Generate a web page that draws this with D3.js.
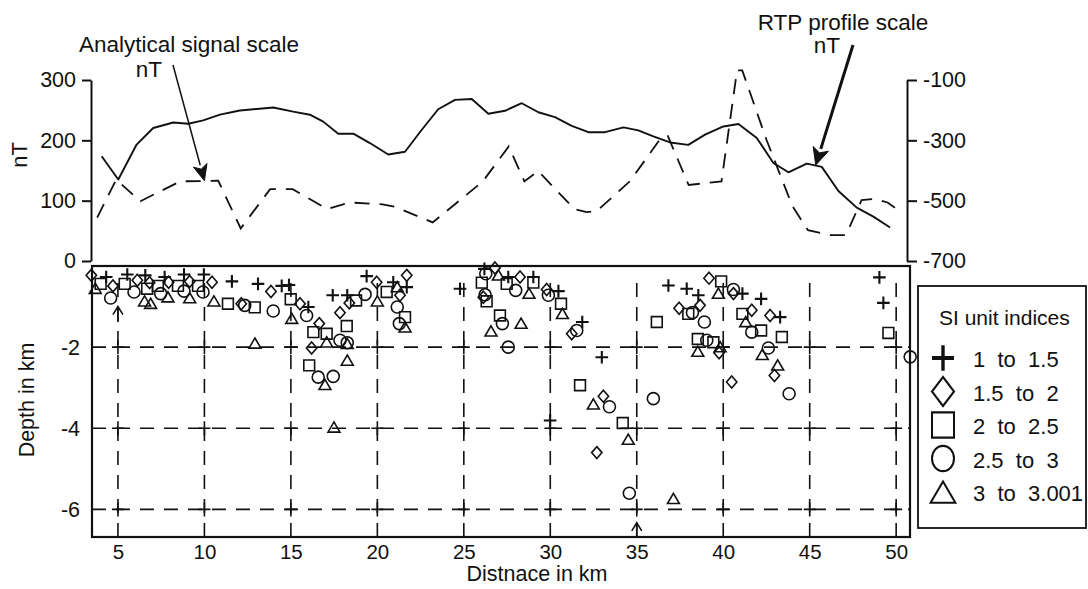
<!DOCTYPE html>
<html>
<head>
<meta charset="utf-8">
<script src="https://cdn.jsdelivr.net/npm/d3@7"></script>
<style>
  body { margin: 0; background: #fff; overflow: hidden; }
  text { fill: #111; }
</style>
</head>
<body>
<div id="chart"></div>
<script>
// ---- data ----
const distTicks = [5, 10, 15, 20, 25, 30, 35, 40, 45, 50];
const depthTicks = [-2, -4, -6];
const asTicks = [0, 100, 200, 300];
const rtpTicks = [-100, -300, -500, -700];

// RTP profile (solid line, right axis, nT)
const rtpKm = [4.06, 5.02, 6.08, 7.04, 8.2, 9.07, 9.93, 10.9, 12.05, 13.98, 15.13, 16.1, 16.87, 17.74, 18.61, 19.57, 20.63, 21.6, 22.57, 23.52, 24.49, 25.46, 26.42, 27.38, 28.35, 29.31, 30.27, 31.24, 32.2, 33.17, 34.23, 35.09, 35.96, 36.93, 37.98, 38.95, 40.01, 40.88, 41.94, 42.9, 43.77, 44.83, 45.7, 46.66, 47.72, 48.68, 49.65];
const rtpNT = [-353, -430, -314, -259, -241, -245, -234, -215, -201, -191, -205, -215, -238, -278, -278, -309, -347, -338, -265, -197, -166, -163, -212, -202, -177, -207, -223, -252, -273, -273, -257, -267, -287, -307, -315, -281, -254, -246, -292, -375, -406, -377, -388, -468, -523, -553, -589];

// analytical signal (dashed line, left axis, nT)
const asKm = [3.8, 4.9, 6.3, 8.6, 10.8, 12.1, 13.8, 15.1, 17.1, 18.4, 20.3, 21.0, 23.2, 26.1, 27.6, 28.5, 29.3, 31.4, 32.1, 32.7, 34.6, 36.4, 36.8, 38.0, 39.9, 40.8, 41.1, 42.5, 44.0, 44.9, 46.2, 47.1, 48.0, 48.8, 49.5, 50.2];
const asNT = [72, 135, 99, 132, 133, 54, 119, 119, 86, 97, 94, 90, 64, 132, 190, 132, 149, 86, 81, 83, 132, 204, 207, 126, 132, 316, 316, 201, 91, 51, 43, 43, 101, 103, 97, 83];

// Euler solutions [distance km, depth km] per SI class
const plusPts = [[4.32,-0.27],[5.54,-0.21],[6.58,-0.23],[7.7,-0.27],[8.82,-0.21],[9.97,-0.21],[11.59,-0.38],[13.1,-0.44],[14.47,-0.49],[14.89,-0.47],[16.01,-1.01],[17.42,-0.72],[18.26,-0.72],[19.38,-0.25],[20.92,-0.4],[21.7,-0.52],[24.78,-0.56],[26.19,-0.07],[27.57,-0.27],[29.02,-0.27],[30.47,-0.62],[31.85,-1.38],[32.98,-2.25],[29.99,-3.81],[36.83,-0.48],[37.89,-0.56],[38.56,-0.72],[41.11,-0.68],[42.19,-0.81],[43.29,-1.26],[49.03,-0.28],[49.26,-0.91]];
const diamondPts = [[3.46,-0.23],[4.71,-0.49],[6.12,-0.35],[6.83,-0.41],[7.93,-0.4],[9.15,-0.38],[10.44,-0.4],[12.13,-0.93],[13.85,-0.63],[15.53,-0.93],[16.64,-1.42],[16.2,-2.02],[17.84,-1.15],[18.38,-0.91],[19.96,-0.4],[21.31,-0.72],[21.7,-0.23],[26.8,-0.05],[28.25,-0.27],[26.13,-0.77],[29.79,-0.58],[31.24,-1.67],[33.07,-3.21],[32.69,-4.6],[39.18,-0.3],[40.59,-0.68],[37.45,-1.04],[38.66,-0.97],[39.76,-2.14],[40.49,-2.86],[41.65,-1.09],[42.71,-1.22],[42.96,-2.7]];
const squarePts = [[4.0,-0.44],[5.39,-0.44],[6.69,-0.56],[7.31,-0.49],[8.47,-0.49],[9.63,-0.49],[11.36,-0.93],[12.91,-1.02],[14.99,-0.82],[16.3,-1.63],[17.07,-1.67],[16.06,-2.45],[18.77,-0.85],[18.23,-1.48],[20.54,-0.64],[21.6,-1.26],[26.04,-0.41],[27.48,-0.44],[29.02,-0.41],[26.32,-0.87],[27.09,-1.22],[30.62,-0.93],[31.72,-2.94],[34.19,-3.87],[36.16,-1.38],[39.88,-0.38],[37.98,-1.18],[38.53,-1.8],[39.43,-1.88],[41.11,-1.18],[42.19,-1.59],[43.39,-1.75],[49.55,-1.65]];
const circlePts = [[4.58,-0.79],[5.93,-0.64],[7.47,-0.68],[8.82,-0.62],[9.92,-0.64],[12.33,-0.97],[13.98,-1.11],[15.91,-1.22],[16.58,-2.74],[17.45,-2.72],[17.84,-1.83],[18.26,-1.89],[19.29,-0.7],[21.15,-1.01],[21.27,-1.42],[26.27,-0.19],[28.0,-0.6],[26.23,-0.71],[27.23,-1.42],[27.57,-2.0],[29.89,-0.72],[31.53,-1.59],[33.42,-3.47],[34.57,-5.6],[35.96,-3.27],[40.59,-0.58],[38.22,-1.15],[38.91,-1.38],[39.05,-1.83],[41.65,-1.63],[42.61,-2.02],[43.81,-3.15],[50.81,-2.24]];
const trianglePts = [[3.69,-0.56],[6.54,-0.87],[6.89,-0.93],[7.89,-0.77],[9.15,-0.79],[10.55,-0.87],[12.92,-1.91],[15.05,-1.3],[17.07,-1.88],[16.97,-2.93],[17.49,-3.98],[18.26,-1.92],[18.26,-2.33],[20.0,-0.87],[21.15,-0.52],[21.6,-1.51],[27.0,-0.23],[28.77,-0.68],[28.31,-1.42],[26.57,-1.61],[30.7,-1.18],[32.49,-3.41],[34.51,-4.28],[37.12,-5.74],[39.72,-0.68],[38.53,-2.11],[39.82,-2.0],[41.3,-1.38],[42.26,-2.19],[43.15,-2.45]];

const siTypes = ['plus', 'diamond', 'square', 'circle', 'triangle'];
const siLabels = ['1  to  1.5', '1.5  to  2', '2  to  2.5', '2.5  to  3', '3  to  3.001'];
const siPoints = [plusPts, diamondPts, squarePts, circlePts, trianglePts];

// ---- layout ----
const dms = { width: 1088, height: 589 };
const font = '"Liberation Sans", Arial, Helvetica, sans-serif';

const svg = d3.select('#chart').append('svg')
    .attr('width', dms.width)
    .attr('height', dms.height)
    .style('font-family', font);

const x = d3.scaleLinear().domain([3.5, 50.8]).range([92, 910]);
const yD = d3.scaleLinear().domain([-6.68, 0]).range([537, 266]);
const yAS = d3.scaleLinear().domain([0, 300]).range([261, 80]);
const yRTP = d3.scaleLinear().domain([-700, -100]).range([261, 80]);

function shape(type, s) {
    if (type == 'plus') return `M${-s},0H${s}M0,${-s}V${s}`;
    if (type == 'diamond') return `M0,${-s*1.15}L${s},0L0,${s*1.15}L${-s},0Z`;
    if (type == 'square') return `M${-s},${-s}H${s}V${s}H${-s}Z`;
    if (type == 'circle') return `M${s},0A${s},${s} 0 1,1 ${-s},0A${s},${s} 0 1,1 ${s},0Z`;
    return `M0,${-s}L${s*1.08},${s*0.85}L${-s*1.08},${s*0.85}Z`;
}
const plotSize = { plus: 6.3, diamond: 5.2, square: 5.4, circle: 6, triangle: 5.5 };

// ---- upper panel: profiles ----
const upper = svg.append('g').attr('id', 'profiles');

const leftAxis = upper.append('g')
    .attr('transform', 'translate(91,0)')
    .call(d3.axisLeft(yAS).tickValues(asTicks).tickSize(9).tickPadding(6).tickSizeOuter(0));
const rightAxis = upper.append('g')
    .attr('transform', 'translate(907,0)')
    .call(d3.axisRight(yRTP).tickValues(rtpTicks).tickSize(10).tickPadding(6).tickSizeOuter(0).tickFormat(d => d));
[leftAxis, rightAxis].forEach(a => {
    a.selectAll('path, line').attr('stroke', '#111').attr('stroke-width', 2);
    a.selectAll('text').attr('font-size', 21.5).attr('font-family', font).attr('fill', '#111');
});

const lineGen = d3.line().x(d => x(d[0])).y(d => d[1]);
upper.append('path')
    .datum(asKm.map((k, i) => [k, yAS(asNT[i])]))
    .attr('d', lineGen)
    .attr('fill', 'none').attr('stroke', '#111').attr('stroke-width', 1.8)
    .attr('stroke-dasharray', '15,10');
upper.append('path')
    .datum(rtpKm.map((k, i) => [k, yRTP(rtpNT[i])]))
    .attr('d', lineGen)
    .attr('fill', 'none').attr('stroke', '#111').attr('stroke-width', 1.9)
    .attr('stroke-linejoin', 'round');

upper.append('text').attr('transform', 'translate(27,155) rotate(-90)')
    .attr('text-anchor', 'middle').attr('font-size', 22).text('nT');

// annotations
function arrow(g, x1, y1, x2, y2, w, head, hw) {
    const a = Math.atan2(y2 - y1, x2 - x1);
    const bx = x2 - head * Math.cos(a), by = y2 - head * Math.sin(a);
    g.append('line').attr('x1', x1).attr('y1', y1).attr('x2', bx).attr('y2', by)
        .attr('stroke', '#111').attr('stroke-width', w);
    const px = -Math.sin(a) * hw, py = Math.cos(a) * hw;
    g.append('path')
        .attr('d', `M${x2},${y2}L${bx + px},${by + py}L${bx + head*0.25*Math.cos(a)},${by + head*0.25*Math.sin(a)}L${bx - px},${by - py}Z`)
        .attr('fill', '#111').attr('stroke', '#111').attr('stroke-width', 1);
}
upper.append('text').attr('x', 189).attr('y', 52).attr('text-anchor', 'middle')
    .attr('font-size', 22.5).text('Analytical signal scale');
upper.append('text').attr('x', 149).attr('y', 77).attr('text-anchor', 'middle')
    .attr('font-size', 22.5).text('nT');
arrow(upper, 173, 65, x(10.0), yAS(133), 1.5, 16, 7);

upper.append('text').attr('x', 843).attr('y', 30).attr('text-anchor', 'middle')
    .attr('font-size', 22.5).text('RTP profile scale');
upper.append('text').attr('x', 827).attr('y', 53).attr('text-anchor', 'middle')
    .attr('font-size', 22.5).text('nT');
arrow(upper, 853, 45, x(45.35), yRTP(-382), 3, 17, 8);

// ---- lower panel: Euler depths ----
const lower = svg.append('g').attr('id', 'depths');

const grid = lower.append('g').attr('id', 'grid');
grid.selectAll('line.v').data(distTicks).join('line')
    .attr('class', 'v')
    .attr('x1', d => x(d)).attr('x2', d => x(d))
    .attr('y1', yD(-6.68)).attr('y2', yD(-0.3))
    .attr('stroke', '#111').attr('stroke-width', 1.6).attr('stroke-dasharray', '14,10');
grid.selectAll('line.h').data(depthTicks).join('line')
    .attr('class', 'h')
    .attr('x1', x(3.5)).attr('x2', x(50.8))
    .attr('y1', d => yD(d)).attr('y2', d => yD(d))
    .attr('stroke', '#111').attr('stroke-width', 1.6).attr('stroke-dasharray', '14,10');
const crossData = [];
distTicks.forEach(k => depthTicks.forEach(z => crossData.push([k, z])));
grid.selectAll('path.cross').data(crossData).join('path')
    .attr('class', 'cross')
    .attr('transform', d => `translate(${x(d[0])},${yD(d[1])})`)
    .attr('d', 'M-6,0H6M0,-7V7')
    .attr('stroke', '#111').attr('stroke-width', 1.6);

lower.append('rect')
    .attr('x', x(3.5)).attr('y', yD(0))
    .attr('width', x(50.8) - x(3.5)).attr('height', yD(-6.68) - yD(0))
    .attr('fill', 'none').attr('stroke', '#111').attr('stroke-width', 2.2);

// little upward arrows at 5 km and 35 km
[[5, -1.38, -1.0], [35, -6.68, -6.33]].forEach(a => {
    lower.append('line').attr('x1', x(a[0])).attr('x2', x(a[0]))
        .attr('y1', yD(a[1])).attr('y2', yD(a[2]))
        .attr('stroke', '#111').attr('stroke-width', 1.6);
    lower.append('path')
        .attr('d', `M${x(a[0]) - 5},${yD(a[2]) + 8}L${x(a[0])},${yD(a[2])}L${x(a[0]) + 5},${yD(a[2]) + 8}`)
        .attr('fill', 'none').attr('stroke', '#111').attr('stroke-width', 1.6);
});

const xAxis = lower.append('g')
    .attr('transform', `translate(0,${yD(-6.68)})`)
    .call(d3.axisBottom(x).tickValues(distTicks).tickSize(0).tickPadding(7));
const dAxis = lower.append('g')
    .attr('transform', `translate(${x(3.5)},0)`)
    .call(d3.axisLeft(yD).tickValues(depthTicks).tickSize(0).tickPadding(12).tickFormat(d => d));
xAxis.selectAll('text').attr('font-size', 20.5).attr('font-family', font).attr('fill', '#111');
dAxis.selectAll('text').attr('font-size', 21.5).attr('font-family', font).attr('fill', '#111');
[xAxis, dAxis].forEach(a => a.select('.domain').remove());

lower.append('text').attr('transform', 'translate(34,400) rotate(-90)')
    .attr('text-anchor', 'middle').attr('font-size', 21.5).text('Depth in km');
lower.append('text').attr('x', 537).attr('y', 581)
    .attr('text-anchor', 'middle').attr('font-size', 21.5).text('Distnace in km');

// solutions
siTypes.forEach((t, i) => {
    lower.append('g').attr('class', 'si-' + t)
        .selectAll('path').data(siPoints[i]).join('path')
        .attr('transform', d => `translate(${x(d[0])},${yD(d[1])})`)
        .attr('d', shape(t, plotSize[t]))
        .attr('fill', 'none').attr('stroke', '#111')
        .attr('stroke-width', t == 'plus' ? 2.1 : 1.6);
});

// ---- legend ----
const legend = svg.append('g').attr('id', 'legend');
legend.append('rect').attr('x', 918).attr('y', 286).attr('width', 168).attr('height', 242)
    .attr('fill', '#fff').attr('stroke', '#111').attr('stroke-width', 1.8);
legend.append('text').attr('x', 939).attr('y', 325).attr('font-size', 21).text('SI unit indices');
const rows = legend.selectAll('g.row').data(siTypes).join('g')
    .attr('class', 'row')
    .attr('transform', (d, i) => `translate(943,${358 + i * 33.5})`);
rows.append('path')
    .attr('d', d => shape(d, d == 'triangle' ? 11.5 : 11))
    .attr('transform', d => d == 'triangle' ? 'translate(0,1)' : 'scale(1,1.15)')
    .attr('fill', 'none').attr('stroke', '#111')
    .attr('stroke-width', d => d == 'plus' ? 3.4 : 2);
rows.append('text')
    .attr('x', 30).attr('y', 9)
    .attr('font-size', 22)
    .style('white-space', 'pre')
    .text((d, i) => siLabels[i]);
</script>
</body>
</html>
